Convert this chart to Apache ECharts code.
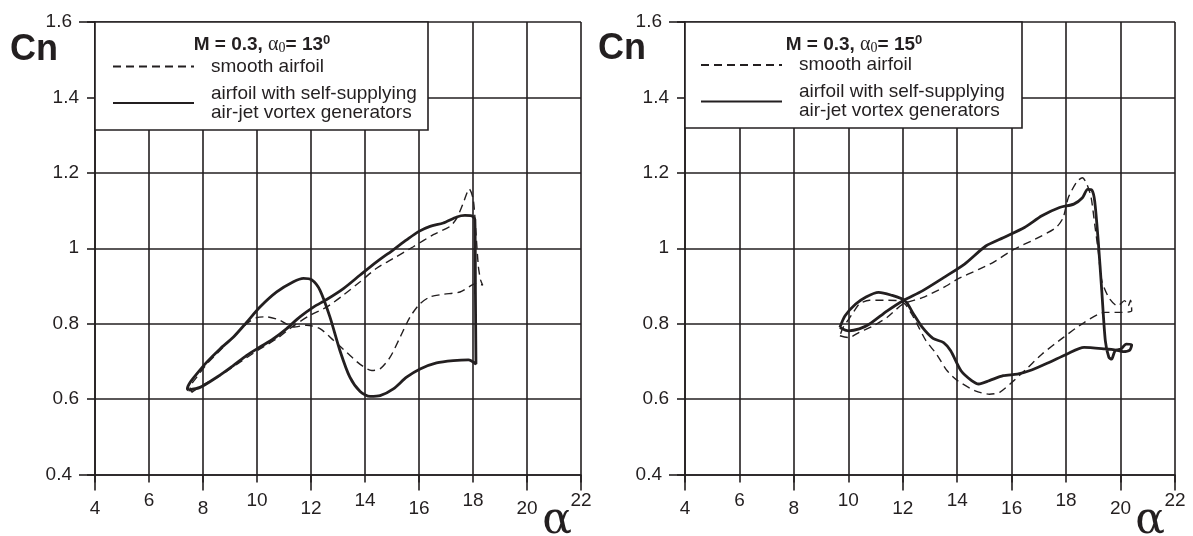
<!DOCTYPE html>
<html>
<head>
<meta charset="utf-8">
<script src="https://cdn.jsdelivr.net/npm/echarts@6/dist/echarts.min.js"></script>
<style>
html,body{margin:0;padding:0;background:#fff;}
#chart{width:1193px;height:536px;}
</style>
</head>
<body>
<div id="chart"></div>
<script>
// ---------- data ----------
const SMOOTH = 'smooth airfoil';
const VG = 'airfoil with self-supplying air-jet vortex generators';

// Left panel: M = 0.3, alpha0 = 13 deg
const leftVgAlpha = [7.46,7.89,8.51,9.12,9.62,10.11,10.61,11.10,11.59,12.09,12.58,13.20,13.82,14.43,15.05,15.54,15.98,16.41,16.90,17.40,17.70,17.95,18.07,18.09,18.11,
  17.83,17.27,16.65,16.04,15.54,15.05,14.56,14.19,13.82,13.44,13.07,12.70,12.33,12.03,11.72,11.35,10.73,10.11,9.62,9.12,8.63,8.14,7.77,7.52,7.42,7.46];
const leftVgCn = [0.624,0.631,0.658,0.689,0.716,0.738,0.760,0.787,0.818,0.844,0.864,0.893,0.929,0.964,0.996,1.022,1.044,1.058,1.067,1.083,1.087,1.086,1.076,0.880,0.693,
  0.704,0.702,0.696,0.680,0.658,0.627,0.609,0.607,0.620,0.658,0.729,0.818,0.889,0.916,0.920,0.911,0.884,0.844,0.804,0.764,0.733,0.698,0.667,0.644,0.627,0.624];

const leftSmoothAlpha = [7.58,8.01,8.63,9.37,10.11,10.73,11.35,11.96,12.58,13.20,13.82,14.43,15.05,15.79,16.53,17.15,17.40,17.64,17.86,18.01,18.11,18.20,18.28,18.36,
  18.14,17.52,16.90,16.41,16.04,15.67,15.30,14.93,14.56,14.25,13.82,13.32,12.83,12.33,11.84,11.35,10.85,10.36,9.99,9.62,9.12,8.63,8.14,7.77,7.52,7.58];
const leftSmoothCn = [0.618,0.638,0.662,0.698,0.733,0.760,0.794,0.822,0.844,0.876,0.911,0.947,0.973,1.004,1.036,1.058,1.080,1.120,1.157,1.129,1.040,0.951,0.916,0.902,
  0.907,0.884,0.878,0.871,0.853,0.818,0.764,0.711,0.680,0.676,0.692,0.724,0.756,0.787,0.796,0.791,0.809,0.818,0.816,0.800,0.764,0.729,0.693,0.658,0.631,0.618];

// Right panel: M = 0.3, alpha0 = 15 deg
const rightVgAlpha = [9.69,10.01,10.40,10.78,11.43,12.01,12.72,13.50,14.27,15.05,15.69,16.47,17.11,17.76,18.28,18.60,18.79,18.95,19.05,19.18,
  19.31,19.44,19.57,19.67,19.80,20.02,20.21,20.41,20.34,20.09,19.83,19.44,
  18.66,18.02,17.37,16.73,16.21,15.69,15.18,14.79,14.53,14.14,13.76,13.50,13.11,12.72,12.40,12.08,11.56,11.11,10.65,10.27,9.88,9.69];
const rightVgCn = [0.790,0.781,0.786,0.799,0.834,0.861,0.887,0.922,0.958,1.006,1.028,1.055,1.086,1.108,1.117,1.134,1.156,1.154,1.125,1.019,
  0.887,0.755,0.711,0.706,0.728,0.733,0.746,0.744,0.730,0.726,0.730,0.733,
  0.737,0.719,0.697,0.677,0.666,0.662,0.649,0.640,0.649,0.675,0.728,0.750,0.761,0.790,0.825,0.861,0.876,0.883,0.871,0.852,0.821,0.790];

const rightSmoothAlpha = [9.69,10.01,10.40,10.91,11.43,12.01,12.72,13.50,14.01,14.79,15.31,16.08,16.86,17.63,17.89,18.08,18.41,18.60,18.77,18.92,
  19.05,19.18,19.31,19.57,19.89,20.15,20.28,20.37,20.41,
  19.96,19.44,18.66,17.89,17.11,16.60,16.08,15.56,15.18,14.66,14.01,13.63,13.24,12.85,12.59,12.33,12.08,11.82,11.30,10.78,10.40,10.14,9.81,9.69];
const rightSmoothCn = [0.768,0.763,0.777,0.794,0.817,0.852,0.869,0.896,0.918,0.944,0.962,0.997,1.024,1.055,1.081,1.134,1.178,1.187,1.169,1.134,
  1.064,0.993,0.914,0.869,0.847,0.861,0.847,0.862,0.834,
  0.830,0.830,0.803,0.763,0.719,0.684,0.649,0.618,0.613,0.622,0.649,0.675,0.719,0.755,0.790,0.825,0.852,0.861,0.862,0.862,0.852,0.825,0.790,0.768];

const panelTitles = ['13', '15'];
const xMin = 4, xMax = 22, xStep = 2;
const yMin = 0.4, yMax = 1.6, yStep = 0.2;

// ---------- styling ----------
const INK = '#231f20';
const SANS = '"Liberation Sans", Arial, Helvetica, sans-serif';
const SERIF = '"Liberation Serif", "Times New Roman", serif';
const BIGSERIF = '"DejaVu Serif", "Liberation Serif", serif';

function zip(a, b) { return a.map((v, i) => [v, b[i]]); }

const grids = [
  { left: 95, top: 22, width: 486, height: 452.5 },
  { left: 685, top: 22, width: 490, height: 452.5 }
];

const xAxes = [], yAxes = [];
grids.forEach((g, gi) => {
  xAxes.push({
    type: 'value', gridIndex: gi, position: 'bottom', min: xMin, max: xMax, interval: xStep,
    axisLine: { show: true, lineStyle: { color: INK, width: 1.6 } },
    axisTick: { show: true, length: 8, lineStyle: { color: INK, width: 1.6 } },
    splitLine: { show: true, lineStyle: { color: INK, width: 1.6 } },
    axisLabel: {
      margin: 17,
      formatter: function (v) {
        const low = Math.round((v - xMin) / xStep) % 2 === 0;
        return (low ? '{lo|' : '{hi|') + v + '}';
      },
      rich: {
        lo: { fontFamily: SANS, fontSize: 19, color: INK, lineHeight: 19, padding: [16, 0, 0, 0] },
        hi: { fontFamily: SANS, fontSize: 19, color: INK, lineHeight: 19 }
      }
    }
  });
  xAxes.push({
    type: 'value', gridIndex: gi, position: 'bottom', min: xMin, max: xMax, interval: xStep * 2,
    axisLine: { show: false },
    axisTick: { show: true, length: 16, lineStyle: { color: INK, width: 1.6 } },
    splitLine: { show: false },
    axisLabel: { show: false }
  });
  yAxes.push({
    type: 'value', gridIndex: gi, position: 'left', min: yMin, max: yMax, interval: yStep,
    axisLine: { show: true, lineStyle: { color: INK, width: 1.6 } },
    axisTick: { show: true, length: 8, lineStyle: { color: INK, width: 1.6 } },
    splitLine: { show: true, lineStyle: { color: INK, width: 1.6 } },
    axisLabel: {
      margin: 16,
      formatter: function (v) {
        const s = String(Math.round(v * 10) / 10);
        const edge = Math.abs(v - yMin) < 1e-6 || Math.abs(v - yMax) < 1e-6;
        return (edge ? '{f|' : '{n|') + s + '}';
      },
      rich: {
        f: { fontFamily: SANS, fontSize: 19, color: INK, padding: [0, 7, 0, 0] },
        n: { fontFamily: SANS, fontSize: 19, color: INK }
      }
    }
  });
  yAxes.push({
    type: 'value', gridIndex: gi, position: 'left', min: yMin, max: yMax, interval: yMax - yMin,
    axisLine: { show: false },
    axisTick: { show: true, length: 16, lineStyle: { color: INK, width: 1.6 } },
    splitLine: { show: false },
    axisLabel: { show: false }
  });
});

function lineSeries(name, gi, alpha, cn, solid) {
  return {
    type: 'line', name: name, xAxisIndex: gi * 2, yAxisIndex: gi * 2,
    data: zip(alpha, cn), symbol: 'none', showSymbol: false, smooth: 0.25,
    silent: true, z: 3,
    itemStyle: { color: INK },
    lineStyle: solid ? { color: INK, width: 2.8 } : { color: INK, width: 1.4, type: [8, 5] }
  };
}

const series = [
  lineSeries(SMOOTH, 0, leftSmoothAlpha, leftSmoothCn, false),
  lineSeries(VG, 0, leftVgAlpha, leftVgCn, true),
  lineSeries(SMOOTH, 1, rightSmoothAlpha, rightSmoothCn, false),
  lineSeries(VG, 1, rightVgAlpha, rightVgCn, true)
];

function legendAt(left, top) {
  return {
    orient: 'vertical', left: left, top: top, padding: 0, itemGap: 8,
    itemWidth: 81, itemHeight: 14, selectedMode: false, z: 6,
    data: [SMOOTH, VG],
    itemStyle: { color: 'rgba(0,0,0,0)', borderWidth: 0, opacity: 0 },
    formatter: function (n) { return n === VG ? 'airfoil with self-supplying\nair-jet vortex generators' : n; },
    textStyle: { fontFamily: SANS, fontSize: 19, color: INK, lineHeight: 19, padding: [0, 0, 0, 12] }
  };
}

const titleRich = {
  b: { fontFamily: SANS, fontWeight: 'bold', fontSize: 19, fill: INK, lineHeight: 22 },
  g: { fontFamily: SERIF, fontSize: 20, fill: INK, lineHeight: 22 },
  sub: { fontFamily: SERIF, fontSize: 14, fill: INK, lineHeight: 14, verticalAlign: 'bottom' },
  sup: { fontFamily: SANS, fontWeight: 'bold', fontSize: 13, fill: INK, lineHeight: 12, verticalAlign: 'top' }
};
function titleText(cx, a0) {
  return {
    type: 'text', x: cx, y: 44.5, z: 7,
    style: {
      text: '{b|M = 0.3, }{g|α}{sub|0}{b|= ' + a0 + '}{sup|0}',
      rich: titleRich, align: 'center', verticalAlign: 'middle'
    }
  };
}

const graphic = [
  { type: 'rect', z: 5, shape: { x: 95, y: 22, width: 333, height: 108 },
    style: { fill: '#fff', stroke: INK, lineWidth: 1.6 } },
  { type: 'rect', z: 5, shape: { x: 685, y: 22, width: 337, height: 106 },
    style: { fill: '#fff', stroke: INK, lineWidth: 1.6 } },
  titleText(262, panelTitles[0]),
  titleText(854, panelTitles[1]),
  { type: 'text', x: 10, y: 50, z: 7,
    style: { text: 'Cn', fontFamily: SANS, fontWeight: 'bold', fontSize: 36, fill: INK, verticalAlign: 'middle' } },
  { type: 'text', x: 598, y: 49, z: 7,
    style: { text: 'Cn', fontFamily: SANS, fontWeight: 'bold', fontSize: 36, fill: INK, verticalAlign: 'middle' } },
  { type: 'text', x: 557, y: 522, z: 7,
    style: { text: 'α', fontFamily: BIGSERIF, fontSize: 44, fill: INK, align: 'center', verticalAlign: 'middle' } },
  { type: 'text', x: 1150, y: 522, z: 7,
    style: { text: 'α', fontFamily: BIGSERIF, fontSize: 44, fill: INK, align: 'center', verticalAlign: 'middle' } }
];

const chart = echarts.init(document.getElementById('chart'), null, { renderer: 'canvas' });
chart.setOption({
  animation: false,
  backgroundColor: '#fff',
  textStyle: { fontFamily: SANS, color: INK },
  grid: grids,
  xAxis: xAxes,
  yAxis: yAxes,
  legend: [legendAt(112, 57), legendAt(700, 55.5)],
  graphic: graphic,
  series: series
});
</script>
</body>
</html>
